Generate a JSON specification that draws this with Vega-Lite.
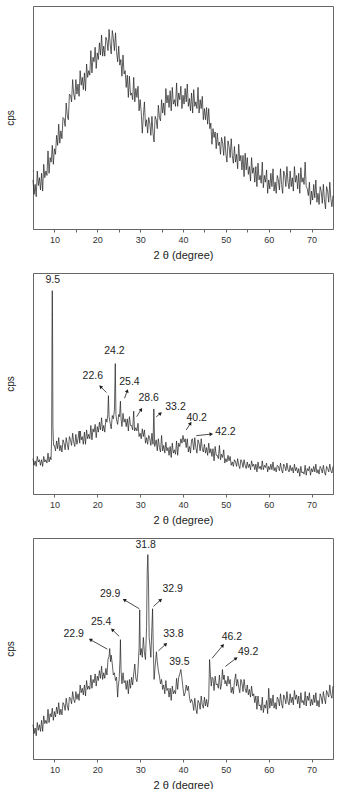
{
"$schema": "https://vega.github.io/schema/vega-lite/v6.json",
"padding": {"left": 4, "top": 5, "right": 3, "bottom": 0},
"spacing": 11,
"datasets": {
"p1": [
{"x":5,"y":22},{"x":5.25,"y":15.5},{"x":5.5,"y":20},{"x":5.75,"y":14.5},
{"x":6,"y":26},{"x":6.25,"y":19.5},{"x":6.5,"y":23},{"x":6.75,"y":17.5},
{"x":7,"y":25},{"x":7.25,"y":17},{"x":7.5,"y":29},{"x":7.75,"y":23},
{"x":8,"y":26},{"x":8.25,"y":24},{"x":8.5,"y":35},{"x":8.75,"y":25},
{"x":9,"y":32},{"x":9.25,"y":30},{"x":9.5,"y":37.5},{"x":9.75,"y":29},
{"x":10,"y":36},{"x":10.25,"y":33.5},{"x":10.5,"y":42},{"x":10.75,"y":37.5},
{"x":11,"y":47},{"x":11.25,"y":38.5},{"x":11.5,"y":44},{"x":11.75,"y":40.5},
{"x":12,"y":50},{"x":12.25,"y":49.5},{"x":12.5,"y":46},{"x":12.75,"y":56.5},
{"x":13,"y":51},{"x":13.25,"y":49},{"x":13.5,"y":60.5},{"x":13.75,"y":60},
{"x":14,"y":57},{"x":14.25,"y":67},{"x":14.5,"y":60.5},{"x":14.75,"y":58},
{"x":15,"y":67},{"x":15.25,"y":60.5},{"x":15.5,"y":65},{"x":15.75,"y":59.5},
{"x":16,"y":71},{"x":16.25,"y":64.5},{"x":16.5,"y":68},{"x":16.75,"y":62.5},
{"x":17,"y":70},{"x":17.25,"y":62},{"x":17.5,"y":74},{"x":17.75,"y":68},
{"x":18,"y":71},{"x":18.25,"y":69},{"x":18.5,"y":80},{"x":18.75,"y":70},
{"x":19,"y":77},{"x":19.25,"y":75},{"x":19.5,"y":81.5},{"x":19.75,"y":72},
{"x":20,"y":79},{"x":20.25,"y":76},{"x":20.5,"y":83.5},{"x":20.75,"y":78},
{"x":21,"y":87},{"x":21.25,"y":77.5},{"x":21.5,"y":82},{"x":21.75,"y":77.5},
{"x":22,"y":86},{"x":22.25,"y":84.5},{"x":22.5,"y":80},{"x":22.75,"y":89.5},
{"x":23,"y":83},{"x":23.25,"y":78.5},{"x":23.5,"y":89},{"x":23.75,"y":85.5},
{"x":24,"y":80},{"x":24.25,"y":88},{"x":24.5,"y":79.5},{"x":24.75,"y":75},
{"x":25,"y":82},{"x":25.25,"y":73.5},{"x":25.5,"y":76},{"x":25.75,"y":68.5},
{"x":26,"y":78},{"x":26.25,"y":69.5},{"x":26.5,"y":71},{"x":26.75,"y":63.5},
{"x":27,"y":69},{"x":27.25,"y":59},{"x":27.5,"y":68.5},{"x":27.75,"y":60},
{"x":28,"y":61},{"x":28.25,"y":58},{"x":28.5,"y":68},{"x":28.75,"y":57},
{"x":29,"y":63},{"x":29.25,"y":59},{"x":29.5,"y":64},{"x":29.75,"y":53},
{"x":30,"y":58},{"x":30.25,"y":52.5},{"x":30.5,"y":43},{"x":30.75,"y":50.5},
{"x":31,"y":57},{"x":31.25,"y":46},{"x":31.5,"y":49},{"x":31.75,"y":43},
{"x":32,"y":50},{"x":32.25,"y":47.5},{"x":32.5,"y":42},{"x":32.75,"y":50.5},
{"x":33,"y":43},{"x":33.25,"y":39},{"x":33.5,"y":50.5},{"x":33.75,"y":49},
{"x":34,"y":45},{"x":34.25,"y":55.5},{"x":34.5,"y":50},{"x":34.75,"y":48.5},
{"x":35,"y":58},{"x":35.25,"y":52},{"x":35.5,"y":56.5},{"x":35.75,"y":51},
{"x":36,"y":63},{"x":36.25,"y":56.5},{"x":36.5,"y":60},{"x":36.75,"y":54.5},
{"x":37,"y":62},{"x":37.25,"y":53},{"x":37.5,"y":63.5},{"x":37.75,"y":56},
{"x":38,"y":58},{"x":38.25,"y":55},{"x":38.5,"y":65.5},{"x":38.75,"y":55},
{"x":39,"y":61},{"x":39.25,"y":58},{"x":39.5,"y":64},{"x":39.75,"y":54},
{"x":40,"y":60},{"x":40.25,"y":56},{"x":40.5,"y":63},{"x":40.75,"y":57},
{"x":41,"y":65},{"x":41.25,"y":55},{"x":41.5,"y":58.5},{"x":41.75,"y":53},
{"x":42,"y":61},{"x":42.25,"y":52},{"x":42.5,"y":62.5},{"x":42.75,"y":55},
{"x":43,"y":57},{"x":43.25,"y":54},{"x":43.5,"y":63.5},{"x":43.75,"y":52},
{"x":44,"y":58},{"x":44.25,"y":54},{"x":44.5,"y":59.5},{"x":44.75,"y":49},
{"x":45,"y":54},{"x":45.25,"y":49},{"x":45.5,"y":54.5},{"x":45.75,"y":47},
{"x":46,"y":54},{"x":46.25,"y":45},{"x":46.5,"y":47.5},{"x":46.75,"y":38},
{"x":47,"y":45},{"x":47.25,"y":41},{"x":47.5,"y":43.5},{"x":47.75,"y":36},
{"x":48,"y":43},{"x":48.25,"y":37.5},{"x":48.5,"y":39},{"x":48.75,"y":33.5},
{"x":49,"y":41},{"x":49.25,"y":38.5},{"x":49.5,"y":33},{"x":49.75,"y":41.5},
{"x":50,"y":34},{"x":50.25,"y":30},{"x":50.5,"y":39.5},{"x":50.75,"y":37},
{"x":51,"y":32},{"x":51.25,"y":40.5},{"x":51.5,"y":33},{"x":51.75,"y":29.5},
{"x":52,"y":37},{"x":52.25,"y":30},{"x":52.5,"y":33.5},{"x":52.75,"y":27},
{"x":53,"y":38},{"x":53.25,"y":30.5},{"x":53.5,"y":33},{"x":53.75,"y":26.5},
{"x":54,"y":33},{"x":54.25,"y":23.5},{"x":54.5,"y":34},{"x":54.75,"y":26.5},
{"x":55,"y":32},{"x":55.25,"y":24.5},{"x":55.5,"y":28},{"x":55.75,"y":21.5},
{"x":56,"y":32},{"x":56.25,"y":25},{"x":56.5,"y":27.5},{"x":56.75,"y":21},
{"x":57,"y":28},{"x":57.25,"y":19},{"x":57.5,"y":29.5},{"x":57.75,"y":22},
{"x":58,"y":24},{"x":58.25,"y":20.5},{"x":58.5,"y":30},{"x":58.75,"y":18.5},
{"x":59,"y":24},{"x":59.25,"y":21},{"x":59.5,"y":26.5},{"x":59.75,"y":16},
{"x":60,"y":22},{"x":60.25,"y":18},{"x":60.5,"y":25},{"x":60.75,"y":19},
{"x":61,"y":27},{"x":61.25,"y":17},{"x":61.5,"y":21},{"x":61.75,"y":16},
{"x":62,"y":24},{"x":62.25,"y":22},{"x":62.5,"y":17.5},{"x":62.75,"y":27},
{"x":63,"y":20},{"x":63.25,"y":16},{"x":63.5,"y":26},{"x":63.75,"y":24},
{"x":64,"y":19},{"x":64.25,"y":28},{"x":64.5,"y":21},{"x":64.75,"y":18},
{"x":65,"y":26},{"x":65.25,"y":19},{"x":65.5,"y":23},{"x":65.75,"y":17},
{"x":66,"y":28},{"x":66.25,"y":21},{"x":66.5,"y":24},{"x":66.75,"y":18},
{"x":67,"y":25},{"x":67.25,"y":16},{"x":67.5,"y":27.5},{"x":67.75,"y":21},
{"x":68,"y":23},{"x":68.25,"y":20},{"x":68.5,"y":30},{"x":68.75,"y":19},
{"x":69,"y":18},{"x":69.25,"y":15},{"x":69.5,"y":21},{"x":69.75,"y":11},
{"x":70,"y":17},{"x":70.25,"y":13},{"x":70.5,"y":20},{"x":70.75,"y":14},
{"x":71,"y":22},{"x":71.25,"y":12},{"x":71.5,"y":16},{"x":71.75,"y":11},
{"x":72,"y":19},{"x":72.25,"y":17},{"x":72.5,"y":11.5},{"x":72.75,"y":20},
{"x":73,"y":13},{"x":73.25,"y":9},{"x":73.5,"y":19},{"x":73.75,"y":17},
{"x":74,"y":12},{"x":74.25,"y":21},{"x":74.5,"y":13.5},{"x":74.75,"y":10},
{"x":75,"y":15}
],
"p2": [
{"x":5,"y":16},{"x":5.25,"y":13},{"x":5.5,"y":15},{"x":5.75,"y":12.5},
{"x":6,"y":17},{"x":6.25,"y":14.5},{"x":6.5,"y":15.5},{"x":6.75,"y":13},
{"x":7,"y":15.5},{"x":7.25,"y":12.5},{"x":7.5,"y":17},{"x":7.75,"y":14.5},
{"x":8,"y":15.5},{"x":8.25,"y":14},{"x":8.5,"y":18.5},{"x":8.75,"y":14.5},
{"x":9,"y":16.8},{"x":9.2,"y":15.5},{"x":9.35,"y":25},{"x":9.45,"y":80},{"x":9.5,"y":92},{"x":9.55,"y":80},{"x":9.65,"y":30},{"x":9.8,"y":22},
{"x":10,"y":22},{"x":10.25,"y":19.5},{"x":10.5,"y":24},{"x":10.75,"y":20.5},
{"x":11,"y":25.5},{"x":11.25,"y":19.5},{"x":11.5,"y":22},{"x":11.75,"y":19},
{"x":12,"y":24.5},{"x":12.25,"y":23},{"x":12.5,"y":20},{"x":12.75,"y":25.5},
{"x":13,"y":22.5},{"x":13.25,"y":20},{"x":13.5,"y":26},{"x":13.75,"y":24.5},
{"x":14,"y":22},{"x":14.25,"y":27.5},{"x":14.5,"y":23.5},{"x":14.75,"y":21.5},
{"x":15,"y":27},{"x":15.25,"y":22.5},{"x":15.5,"y":25},{"x":15.75,"y":28.5},{"x":15.9,"y":23},
{"x":16,"y":28.5},{"x":16.25,"y":24.5},{"x":16.5,"y":26},{"x":16.75,"y":22.5},
{"x":17,"y":28},{"x":17.25,"y":22.5},{"x":17.5,"y":29},{"x":17.75,"y":25},
{"x":18,"y":27},{"x":18.25,"y":25},{"x":18.5,"y":31},{"x":18.75,"y":24.5},
{"x":19,"y":29.5},{"x":19.25,"y":28},{"x":19.5,"y":31.5},{"x":19.75,"y":25.5},
{"x":20,"y":30.5},{"x":20.25,"y":28},{"x":20.5,"y":32.5},{"x":20.75,"y":29},
{"x":21,"y":34.5},{"x":21.25,"y":28.5},{"x":21.5,"y":31},{"x":21.75,"y":28},
{"x":22,"y":34},{"x":22.25,"y":32.5},{"x":22.45,"y":36},{"x":22.6,"y":44.5},{"x":22.75,"y":35},
{"x":23,"y":32},{"x":23.25,"y":29.5},{"x":23.5,"y":35.5},{"x":23.75,"y":34},{"x":24,"y":38},{"x":24.2,"y":59},{"x":24.35,"y":36},
{"x":24.5,"y":33.5},{"x":24.75,"y":31.5},
{"x":25,"y":36},{"x":25.2,"y":35},{"x":25.4,"y":42},{"x":25.55,"y":34},{"x":25.75,"y":30.5},
{"x":26,"y":36.5},{"x":26.25,"y":32.5},{"x":26.5,"y":34},{"x":26.75,"y":30.5},
{"x":27,"y":34},{"x":27.25,"y":28.5},{"x":27.5,"y":35},{"x":27.75,"y":31},
{"x":28,"y":31},{"x":28.25,"y":29},{"x":28.5,"y":37.5},{"x":28.7,"y":28.5},
{"x":29,"y":30},{"x":29.25,"y":28.5},{"x":29.5,"y":32},{"x":29.75,"y":26},
{"x":30,"y":27.5},{"x":30.25,"y":25},{"x":30.5,"y":29.5},{"x":30.75,"y":26},
{"x":31,"y":29},{"x":31.25,"y":23},{"x":31.5,"y":25.5},{"x":31.75,"y":22.5},
{"x":32,"y":26.5},{"x":32.25,"y":25},{"x":32.5,"y":22},{"x":32.75,"y":27.5},
{"x":33,"y":22.5},{"x":33.2,"y":38.5},{"x":33.4,"y":21.5},{"x":33.75,"y":24.5},
{"x":34,"y":19.5},{"x":34.25,"y":25},{"x":34.5,"y":21},{"x":34.75,"y":19},
{"x":35,"y":26.5},{"x":35.25,"y":19.5},{"x":35.5,"y":22},{"x":35.75,"y":18.5},
{"x":36,"y":23.5},{"x":36.25,"y":19.5},{"x":36.5,"y":21},{"x":36.75,"y":17.5},
{"x":37,"y":21.5},{"x":37.25,"y":16.5},{"x":37.5,"y":23},{"x":37.75,"y":18.5},
{"x":38,"y":20},{"x":38.25,"y":18},{"x":38.5,"y":24},{"x":38.75,"y":17.5},
{"x":39,"y":23},{"x":39.25,"y":21.5},{"x":39.5,"y":25},{"x":39.75,"y":23},
{"x":40,"y":26.5},{"x":40.25,"y":23.5},{"x":40.5,"y":25},{"x":40.75,"y":21},
{"x":41,"y":25},{"x":41.25,"y":19},{"x":41.5,"y":21.5},{"x":41.75,"y":18.5},
{"x":42,"y":24.5},{"x":42.2,"y":25},{"x":42.5,"y":20},{"x":42.75,"y":25.5},
{"x":43,"y":21},{"x":43.25,"y":18.5},{"x":43.5,"y":24.5},{"x":43.75,"y":23},
{"x":44,"y":19.5},{"x":44.25,"y":25},{"x":44.5,"y":20.5},{"x":44.75,"y":19},
{"x":45,"y":22.5},{"x":45.25,"y":18.5},{"x":45.5,"y":21},{"x":45.75,"y":17.5},
{"x":46,"y":23},{"x":46.25,"y":18.5},{"x":46.5,"y":20.5},{"x":46.75,"y":17},
{"x":47,"y":20.5},{"x":47.25,"y":15},{"x":47.5,"y":21.5},{"x":47.75,"y":17.5},
{"x":48,"y":17.5},{"x":48.25,"y":16},{"x":48.5,"y":22},{"x":48.75,"y":15.5},
{"x":49,"y":18},{"x":49.25,"y":16.5},{"x":49.5,"y":20},{"x":49.75,"y":14},
{"x":50,"y":16},{"x":50.25,"y":14.5},{"x":50.5,"y":17.5},{"x":50.75,"y":15},
{"x":51,"y":17},{"x":51.25,"y":13},{"x":51.5,"y":14.5},{"x":51.75,"y":12.5},
{"x":52,"y":15.5},{"x":52.25,"y":14.5},{"x":52.5,"y":12.5},{"x":52.75,"y":16},
{"x":53,"y":13},{"x":53.25,"y":11.5},{"x":53.5,"y":15.5},{"x":53.75,"y":14.5},
{"x":54,"y":12},{"x":54.25,"y":15.5},{"x":54.5,"y":13},{"x":54.75,"y":11.5},
{"x":55,"y":14.5},{"x":55.25,"y":12},{"x":55.5,"y":13.5},{"x":55.75,"y":11},
{"x":56,"y":15},{"x":56.25,"y":12.5},{"x":56.5,"y":13.5},{"x":56.75,"y":11},
{"x":57,"y":13.5},{"x":57.25,"y":10},{"x":57.5,"y":14.5},{"x":57.75,"y":11.5},
{"x":58,"y":12.5},{"x":58.25,"y":11},{"x":58.5,"y":15},{"x":58.75,"y":11},
{"x":59,"y":13},{"x":59.25,"y":12},{"x":59.5,"y":14},{"x":59.75,"y":10},
{"x":60,"y":12.5},{"x":60.25,"y":11},{"x":60.5,"y":13.5},{"x":60.75,"y":11},
{"x":61,"y":14.5},{"x":61.25,"y":10.5},{"x":61.5,"y":12},{"x":61.75,"y":10},
{"x":62,"y":13},{"x":62.25,"y":12.5},{"x":62.5,"y":10.5},{"x":62.75,"y":14},
{"x":63,"y":11},{"x":63.25,"y":9.5},{"x":63.5,"y":13.5},{"x":63.75,"y":12.5},
{"x":64,"y":10.5},{"x":64.25,"y":14},{"x":64.5,"y":11},{"x":64.75,"y":10},
{"x":65,"y":13},{"x":65.25,"y":10.5},{"x":65.5,"y":12},{"x":65.75,"y":9.5},
{"x":66,"y":13.5},{"x":66.25,"y":10.5},{"x":66.5,"y":12},{"x":66.75,"y":9.5},
{"x":67,"y":11.5},{"x":67.25,"y":8},{"x":67.5,"y":12.5},{"x":67.75,"y":9.5},
{"x":68,"y":10},{"x":68.25,"y":9},{"x":68.5,"y":13},{"x":68.75,"y":8.5},
{"x":69,"y":11.5},{"x":69.25,"y":10.5},{"x":69.5,"y":12.5},{"x":69.75,"y":8.5},
{"x":70,"y":11.5},{"x":70.25,"y":10},{"x":70.5,"y":12.5},{"x":70.75,"y":10},
{"x":71,"y":13.5},{"x":71.25,"y":9.5},{"x":71.5,"y":11},{"x":71.75,"y":9},
{"x":72,"y":12.5},{"x":72.25,"y":11.5},{"x":72.5,"y":9.5},{"x":72.75,"y":13},
{"x":73,"y":10},{"x":73.25,"y":8.5},{"x":73.5,"y":12.5},{"x":73.75,"y":11.5},
{"x":74,"y":10},{"x":74.25,"y":13.5},{"x":74.5,"y":10.5},{"x":74.75,"y":9.5},
{"x":75,"y":12.5}
],
"p3": [
{"x":5,"y":15.5},{"x":5.25,"y":11.5},{"x":5.5,"y":14},{"x":5.75,"y":10.5},
{"x":6,"y":16.5},{"x":6.25,"y":13},{"x":6.5,"y":15.5},{"x":6.75,"y":12.5},
{"x":7,"y":17.5},{"x":7.25,"y":12.5},{"x":7.5,"y":19.5},{"x":7.75,"y":16},
{"x":8,"y":17.5},{"x":8.25,"y":16},{"x":8.5,"y":22.5},{"x":8.75,"y":16.5},
{"x":9,"y":20.5},{"x":9.25,"y":19},{"x":9.5,"y":23},{"x":9.75,"y":17.5},
{"x":10,"y":21.5},{"x":10.25,"y":19},{"x":10.5,"y":23.5},{"x":10.75,"y":20.5},
{"x":11,"y":25.5},{"x":11.25,"y":20},{"x":11.5,"y":22.5},{"x":11.75,"y":20},
{"x":12,"y":25.5},{"x":12.25,"y":24.5},{"x":12.5,"y":22},{"x":12.75,"y":27.5},
{"x":13,"y":24},{"x":13.25,"y":22},{"x":13.5,"y":28},{"x":13.75,"y":27.5},
{"x":14,"y":25},{"x":14.25,"y":30.5},{"x":14.5,"y":27},{"x":14.75,"y":25.5},
{"x":15,"y":30.5},{"x":15.25,"y":27},{"x":15.5,"y":29.5},{"x":15.75,"y":26.5},
{"x":16,"y":33.5},{"x":16.25,"y":30},{"x":16.5,"y":32},{"x":16.75,"y":29},
{"x":17,"y":33.5},{"x":17.25,"y":28.5},{"x":17.5,"y":35.5},{"x":17.75,"y":31.5},
{"x":18,"y":33},{"x":18.25,"y":31.5},{"x":18.5,"y":38},{"x":18.75,"y":32},
{"x":19,"y":36},{"x":19.25,"y":34.5},{"x":19.5,"y":38.5},{"x":19.75,"y":33},
{"x":20,"y":37.5},{"x":20.25,"y":35.5},{"x":20.5,"y":40},{"x":20.75,"y":36.5},
{"x":21,"y":42},{"x":21.25,"y":36},{"x":21.5,"y":39},{"x":21.75,"y":36.5},
{"x":22,"y":41},{"x":22.25,"y":38},{"x":22.5,"y":45},{"x":22.75,"y":46.5},{"x":22.9,"y":50},{"x":23.1,"y":44},
{"x":23.25,"y":47},{"x":23.5,"y":43},{"x":23.75,"y":38},
{"x":24,"y":39},{"x":24.25,"y":35.5},{"x":24.5,"y":37},{"x":24.75,"y":28},{"x":24.9,"y":33},
{"x":25.1,"y":36},{"x":25.3,"y":45},{"x":25.4,"y":54},{"x":25.55,"y":40},{"x":25.75,"y":34},
{"x":26,"y":39},{"x":26.25,"y":34.5},{"x":26.5,"y":35.5},{"x":26.75,"y":31.5},
{"x":27,"y":35.5},{"x":27.25,"y":29.5},{"x":27.5,"y":36},{"x":27.75,"y":32},
{"x":28,"y":37},{"x":28.25,"y":33.5},{"x":28.5,"y":38.5},{"x":28.75,"y":43},{"x":29,"y":36.5},
{"x":29.25,"y":35},{"x":29.45,"y":39},{"x":29.75,"y":50},{"x":29.9,"y":67.5},{"x":30.05,"y":47},{"x":30.25,"y":50},
{"x":30.5,"y":46},{"x":30.75,"y":55},{"x":31,"y":48},{"x":31.25,"y":45},{"x":31.5,"y":60},{"x":31.65,"y":85},{"x":31.8,"y":92.5},{"x":31.95,"y":80},{"x":32.1,"y":55},
{"x":32.3,"y":51},{"x":32.5,"y":46},{"x":32.75,"y":60},{"x":32.9,"y":68},{"x":33.05,"y":52},{"x":33.25,"y":36},{"x":33.5,"y":42},{"x":33.8,"y":48.5},{"x":34,"y":44},
{"x":34.25,"y":40},{"x":34.5,"y":37.5},{"x":34.75,"y":34},{"x":35,"y":36},
{"x":35.25,"y":31.5},{"x":35.5,"y":33.5},{"x":35.75,"y":29.5},{"x":36,"y":35.5},
{"x":36.25,"y":31},{"x":36.5,"y":32},{"x":36.75,"y":28},{"x":37,"y":32},
{"x":37.25,"y":26.5},{"x":37.5,"y":33},{"x":37.75,"y":29.5},{"x":38,"y":31},
{"x":38.25,"y":29.5},{"x":38.5,"y":36.5},{"x":38.75,"y":31.5},{"x":39,"y":37},
{"x":39.25,"y":38.5},{"x":39.5,"y":40.5},{"x":39.75,"y":36.5},{"x":40,"y":32},
{"x":40.25,"y":28.5},{"x":40.5,"y":30},{"x":40.75,"y":33.5},{"x":41,"y":31},
{"x":41.25,"y":33},{"x":41.5,"y":28},{"x":41.75,"y":25.5},{"x":42,"y":27},
{"x":42.25,"y":25.5},{"x":42.5,"y":22},{"x":42.75,"y":27.5},{"x":43,"y":23},
{"x":43.25,"y":20.5},{"x":43.5,"y":26.5},{"x":43.75,"y":25.5},{"x":44,"y":22.5},
{"x":44.25,"y":28.5},{"x":44.5,"y":24.5},{"x":44.75,"y":23},{"x":45,"y":28},
{"x":45.25,"y":24},{"x":45.5,"y":27},{"x":45.75,"y":23.5},{"x":46,"y":27},
{"x":46.2,"y":45},{"x":46.4,"y":38},{"x":46.6,"y":33},{"x":46.8,"y":37},
{"x":47,"y":36.5},{"x":47.25,"y":31},{"x":47.5,"y":37.5},{"x":47.75,"y":33.5},
{"x":48,"y":34},{"x":48.25,"y":32},{"x":48.5,"y":38},{"x":48.75,"y":31.5},
{"x":49,"y":34},{"x":49.2,"y":40.5},{"x":49.4,"y":36},{"x":49.6,"y":38},
{"x":49.8,"y":34},{"x":50,"y":35.5},{"x":50.25,"y":33},{"x":50.5,"y":37.5},
{"x":50.75,"y":34},{"x":51,"y":36},{"x":51.25,"y":30},{"x":51.5,"y":32.5},
{"x":51.75,"y":29.5},{"x":52,"y":35},{"x":52.3,"y":38.5},{"x":52.5,"y":33},
{"x":52.75,"y":36},{"x":53,"y":32.5},{"x":53.25,"y":30},{"x":53.5,"y":36},
{"x":53.75,"y":34.5},{"x":54,"y":30.5},{"x":54.25,"y":36},{"x":54.5,"y":32},
{"x":54.75,"y":30},{"x":55,"y":33.5},{"x":55.25,"y":29},{"x":55.5,"y":31.5},
{"x":55.75,"y":28},{"x":56,"y":33},{"x":56.25,"y":28.5},{"x":56.5,"y":29.5},
{"x":56.75,"y":25.5},{"x":57,"y":28.5},{"x":57.25,"y":22.5},{"x":57.5,"y":28.5},
{"x":57.75,"y":24},{"x":58,"y":24.5},{"x":58.25,"y":22},{"x":58.5,"y":28},
{"x":58.75,"y":21},{"x":59,"y":24.5},{"x":59.25,"y":23},{"x":59.5,"y":26.5},
{"x":59.75,"y":20.5},{"x":60,"y":32},{"x":60.25,"y":23},{"x":60.5,"y":27.5},
{"x":60.75,"y":24},{"x":61,"y":29},{"x":61.25,"y":23},{"x":61.5,"y":25.5},
{"x":61.75,"y":22.5},{"x":62,"y":28},{"x":62.25,"y":27},{"x":62.5,"y":24},
{"x":62.75,"y":29.5},{"x":63,"y":25},{"x":63.25,"y":23},{"x":63.5,"y":29},
{"x":63.75,"y":27.5},{"x":64,"y":25},{"x":64.25,"y":30.5},{"x":64.5,"y":26},
{"x":64.75,"y":24.5},{"x":65,"y":29.5},{"x":65.25,"y":25.5},{"x":65.5,"y":28},
{"x":65.75,"y":24.5},{"x":66,"y":31},{"x":66.25,"y":27},{"x":66.5,"y":29},
{"x":66.75,"y":25},{"x":67,"y":28.5},{"x":67.25,"y":23},{"x":67.5,"y":30},
{"x":67.75,"y":25.5},{"x":68,"y":26.5},{"x":68.25,"y":24.5},{"x":68.5,"y":30.5},
{"x":68.75,"y":24},{"x":69,"y":28.5},{"x":69.25,"y":26.5},{"x":69.5,"y":30},
{"x":69.75,"y":24},{"x":70,"y":27},{"x":70.25,"y":24.5},{"x":70.5,"y":29},
{"x":70.75,"y":25.5},{"x":71,"y":30},{"x":71.25,"y":24},{"x":71.5,"y":26.5},
{"x":71.75,"y":23.5},{"x":72,"y":29.5},{"x":72.25,"y":28},{"x":72.5,"y":25},
{"x":72.75,"y":30.5},{"x":73,"y":27.5},{"x":73.25,"y":25},{"x":73.5,"y":31},
{"x":73.75,"y":29.5},{"x":74,"y":28},{"x":74.25,"y":33.5},{"x":74.5,"y":29},
{"x":74.75,"y":27.5},{"x":75,"y":33}
],
"l2": [
{"label":"9.5","tx":9.6,"ty":96.8},
{"label":"24.2","tx":24.0,"ty":64.9},
{"label":"22.6","tx":18.95,"ty":53.5},
{"label":"25.4","tx":27.5,"ty":50.9},
{"label":"28.6","tx":32.0,"ty":43.3},
{"label":"33.2","tx":38.25,"ty":39.2},
{"label":"40.2","tx":43.2,"ty":34.5},
{"label":"42.2","tx":49.9,"ty":27.9}
],
"a2": [
{"label":"22.6","x1":22.15,"y1":45.9,"x2":20.75,"y2":48.6},
{"label":"25.4","x1":26.35,"y1":43.3,"x2":27.0,"y2":46.7},
{"label":"28.6","x1":29.2,"y1":35.0,"x2":30.25,"y2":38.3},
{"label":"33.2","x1":33.75,"y1":34.9,"x2":34.75,"y2":36.5},
{"label":"40.2","x1":40.75,"y1":29.0,"x2":41.75,"y2":32.0},
{"label":"42.2","x1":43.1,"y1":26.4,"x2":46.6,"y2":27.1}
],
"l3": [
{"label":"31.8","tx":31.3,"ty":97},
{"label":"29.9","tx":23.0,"ty":74.6},
{"label":"32.9","tx":37.6,"ty":77},
{"label":"25.4","tx":20.9,"ty":62},
{"label":"22.9","tx":14.5,"ty":56.6},
{"label":"33.8","tx":37.75,"ty":56.5},
{"label":"39.5","tx":39.15,"ty":43.8},
{"label":"46.2","tx":51.4,"ty":55},
{"label":"49.2","tx":55.2,"ty":48.3}
],
"a3": [
{"label":"29.9","x1":29.8,"y1":68,"x2":26.3,"y2":72},
{"label":"32.9","x1":33.1,"y1":69,"x2":34.8,"y2":72},
{"label":"25.4","x1":25.1,"y1":55.5,"x2":23.5,"y2":58.5},
{"label":"22.9","x1":22.35,"y1":49.7,"x2":18.4,"y2":54},
{"label":"33.8","x1":34.3,"y1":49,"x2":36.0,"y2":52},
{"label":"46.2","x1":46.8,"y1":45.6,"x2":49.3,"y2":51.4},
{"label":"49.2","x1":49.9,"y1":41.9,"x2":52.4,"y2":45.6}
]
},
"vconcat": [
{
"width": 300, "height": 223,
"layer": [
{"data": {"name": "p1"}, "mark": {"type": "line", "color": "#1e1e1e", "strokeWidth": 0.7},
 "encoding": {
  "x": {"field": "x", "type": "quantitative", "title": "2 θ (degree)", "scale": {"domain": [5, 75], "nice": false, "zero": false}, "axis": {"values": [10,15,20,25,30,35,40,45,50,55,60,65,70], "labelExpr": "datum.value % 10 === 0 ? datum.label : ''"}},
  "y": {"field": "y", "type": "quantitative", "title": "cps", "scale": {"domain": [0, 100], "nice": false, "zero": false}}
 }}
]
},
{
"width": 300, "height": 221,
"layer": [
{"data": {"name": "p2"}, "mark": {"type": "line", "color": "#1e1e1e", "strokeWidth": 0.7},
 "encoding": {
  "x": {"field": "x", "type": "quantitative", "title": "2 θ (degree)", "scale": {"domain": [5, 75], "nice": false, "zero": false}, "axis": {"values": [10,15,20,25,30,35,40,45,50,55,60,65,70], "labelExpr": "datum.value % 10 === 0 ? datum.label : ''"}},
  "y": {"field": "y", "type": "quantitative", "title": "cps", "scale": {"domain": [0, 100], "nice": false, "zero": false}}
 }},
{"data": {"name": "l2"}, "mark": {"type": "text", "fontSize": 10.5, "color": "#1e1e1e"},
 "encoding": {
  "x": {"field": "tx", "type": "quantitative", "title": "2 θ (degree)"},
  "y": {"field": "ty", "type": "quantitative", "title": "cps"},
  "text": {"field": "label"}
 }},
{"data": {"name": "a2"}, "mark": {"type": "rule", "color": "#1e1e1e", "strokeWidth": 0.8},
 "encoding": {
  "x": {"field": "x1", "type": "quantitative", "title": "2 θ (degree)"},
  "y": {"field": "y1", "type": "quantitative", "title": "cps"},
  "x2": {"field": "x2"}, "y2": {"field": "y2"}
 }},
{"data": {"name": "a2"}, "transform": [{"calculate": "atan2((datum.x2-datum.x1)*300/70, (datum.y2-datum.y1)*221/100)*180/PI", "as": "ang"}],
 "mark": {"type": "point", "shape": "triangle-up", "filled": true, "size": 16, "color": "#1e1e1e", "opacity": 1},
 "encoding": {
  "x": {"field": "x2", "type": "quantitative", "title": "2 θ (degree)"},
  "y": {"field": "y2", "type": "quantitative", "title": "cps"},
  "angle": {"field": "ang", "type": "quantitative", "scale": null}
 }}
]
},
{
"width": 300, "height": 221,
"layer": [
{"data": {"name": "p3"}, "mark": {"type": "line", "color": "#1e1e1e", "strokeWidth": 0.7},
 "encoding": {
  "x": {"field": "x", "type": "quantitative", "title": "2 θ (degree)", "scale": {"domain": [5, 75], "nice": false, "zero": false}, "axis": {"values": [10,15,20,25,30,35,40,45,50,55,60,65,70], "labelExpr": "datum.value % 10 === 0 ? datum.label : ''"}},
  "y": {"field": "y", "type": "quantitative", "title": "cps", "scale": {"domain": [0, 100], "nice": false, "zero": false}}
 }},
{"data": {"name": "l3"}, "mark": {"type": "text", "fontSize": 10.5, "color": "#1e1e1e"},
 "encoding": {
  "x": {"field": "tx", "type": "quantitative", "title": "2 θ (degree)"},
  "y": {"field": "ty", "type": "quantitative", "title": "cps"},
  "text": {"field": "label"}
 }},
{"data": {"name": "a3"}, "mark": {"type": "rule", "color": "#1e1e1e", "strokeWidth": 0.8},
 "encoding": {
  "x": {"field": "x1", "type": "quantitative", "title": "2 θ (degree)"},
  "y": {"field": "y1", "type": "quantitative", "title": "cps"},
  "x2": {"field": "x2"}, "y2": {"field": "y2"}
 }},
{"data": {"name": "a3"}, "transform": [{"calculate": "atan2((datum.x2-datum.x1)*300/70, (datum.y2-datum.y1)*221/100)*180/PI", "as": "ang"}],
 "mark": {"type": "point", "shape": "triangle-up", "filled": true, "size": 16, "color": "#1e1e1e", "opacity": 1},
 "encoding": {
  "x": {"field": "x2", "type": "quantitative", "title": "2 θ (degree)"},
  "y": {"field": "y2", "type": "quantitative", "title": "cps"},
  "angle": {"field": "ang", "type": "quantitative", "scale": null}
 }}
]
}
],
"config": {
 "font": "Liberation Sans",
 "view": {"stroke": "#666666", "strokeWidth": 1},
 "axis": {"grid": false, "domainColor": "#666666", "tickColor": "#666666", "labelColor": "#333333", "titleColor": "#222222", "titleFontWeight": "normal"},
 "axisX": {"tickSize": 3, "labelFontSize": 9, "labelPadding": 3, "titleFontSize": 11, "titlePadding": 5},
 "axisY": {"labels": false, "ticks": false, "domain": false, "titleFontSize": 10, "titlePadding": 18}
}
}
